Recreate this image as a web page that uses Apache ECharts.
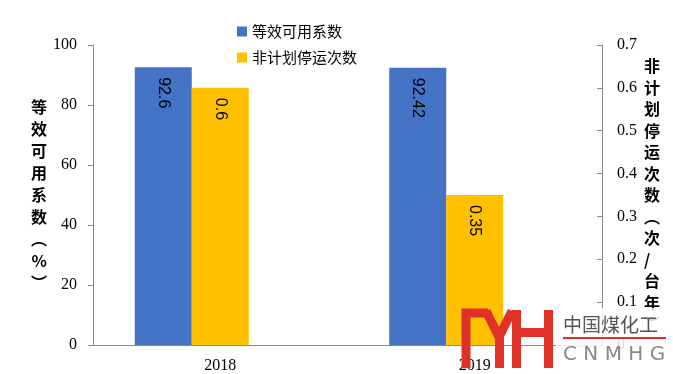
<!DOCTYPE html>
<html><head><meta charset="utf-8">
<script src="https://cdn.jsdelivr.net/npm/echarts@6/dist/echarts.min.js"></script>
<style>html,body{margin:0;padding:0;background:#fff;}#c{width:673px;height:374px;}</style>
</head><body><div id="c"></div>
<script>
const categories = ['2018', '2019'];
const availability = [92.6, 92.42];
const outages = [0.6, 0.35];
const spacer = [null, null];
const seriesNames = ['等效可用系数', '非计划停运次数'];
const leftName = ['等','效','可','用','系','数','︵','%','︶'];
const rightName = ['非','计','划','停','运','次','数','︵','次','/','台','年','︶'];

const chart = echarts.init(document.getElementById('c'));
const serif = 'Liberation Serif, Times New Roman, serif';
const sans = 'Liberation Sans, Arial, sans-serif';
const cjk = 'Noto Sans CJK SC';
const labelCfg = {
  show: true, position: 'insideTop', distance: 10, rotate: -90,
  align: 'left', verticalAlign: 'middle',
  fontFamily: sans, fontSize: 16, color: '#000'
};
chart.setOption({
  animation: false,
  grid: { left: 93, right: 71, top: 45, bottom: 29 },
  legend: {
    orient: 'vertical', left: 232, top: 19, itemGap: 11,
    itemWidth: 10, itemHeight: 10, icon: 'rect',
    textStyle: { fontFamily: cjk, fontSize: 15, color: '#000' },
    data: seriesNames
  },
  xAxis: {
    type: 'category', data: categories,
    axisLine: { lineStyle: { color: '#898989' } },
    axisTick: { show: false },
    axisLabel: { fontFamily: serif, fontSize: 16, color: '#000', margin: 13 }
  },
  yAxis: [{
    type: 'value', min: 0, max: 100, interval: 20,
    splitLine: { show: false },
    axisLine: { show: true, lineStyle: { color: '#898989' } },
    axisTick: { show: true, length: 5, lineStyle: { color: '#898989' } },
    axisLabel: { fontFamily: serif, fontSize: 16, color: '#000', margin: 16 },
    name: leftName.join('\n'), nameLocation: 'middle', nameGap: 46, nameRotate: 0,
    nameTextStyle: { fontFamily: cjk, fontSize: 16, fontWeight: 'bold', color: '#000', lineHeight: 22 }
  }, {
    type: 'value', min: 0, max: 0.7, interval: 0.1, position: 'right',
    splitLine: { show: false },
    axisLine: { show: true, lineStyle: { color: '#898989' } },
    axisTick: { show: true, inside: true, length: 5, lineStyle: { color: '#898989' } },
    axisLabel: { fontFamily: serif, fontSize: 16, color: '#000', margin: 15,
      formatter: v => (Math.round(v * 10) / 10).toString() },
    name: rightName.join('\n'), nameLocation: 'middle', nameGap: 42, nameRotate: 0,
    nameTextStyle: { fontFamily: cjk, fontSize: 16, fontWeight: 'bold', color: '#000', lineHeight: 21.5 }
  }],
  series: [{
    name: seriesNames[0], type: 'bar', yAxisIndex: 0, data: availability,
    barWidth: 57, barGap: '0%', itemStyle: { color: '#4472C4' }, label: labelCfg
  }, {
    name: seriesNames[1], type: 'bar', yAxisIndex: 1, data: outages,
    barWidth: 57, barGap: '0%', itemStyle: { color: '#FFC000' }, label: labelCfg
  }, {
    name: 'spacer', type: 'bar', yAxisIndex: 0, data: spacer,
    barWidth: 57, barGap: '0%', itemStyle: { color: 'transparent' }, label: { show: false }, silent: true
  }],
  graphic: [
    { type: 'rect', z: 100, shape: { x: 556, y: 308, width: 117, height: 66 }, style: { fill: 'rgba(255,255,255,0.85)' } },
    { type: 'polyline', z: 101, shape: { points: [[466, 368], [466, 313], [488, 313]] }, style: { stroke: '#E03128', lineWidth: 9, fill: null } },
    { type: 'polyline', z: 101, shape: { points: [[486, 311], [499, 337], [512, 311]] }, style: { stroke: '#E03128', lineWidth: 9, fill: null, lineJoin: 'miter' } },
    { type: 'rect', z: 101, shape: { x: 495, y: 334, width: 9, height: 34 }, style: { fill: '#E03128' } },
    { type: 'rect', z: 101, shape: { x: 512, y: 310, width: 9, height: 58 }, style: { fill: '#E03128' } },
    { type: 'rect', z: 101, shape: { x: 544, y: 310, width: 9, height: 58 }, style: { fill: '#E03128' } },
    { type: 'rect', z: 101, shape: { x: 520, y: 328, width: 24, height: 9 }, style: { fill: '#E03128' } },
    { type: 'text', z: 102, x: 563, y: 315, style: { text: '中国煤化工', font: '19px "Noto Sans CJK SC"', fill: '#555' } },
    { type: 'rect', z: 102, shape: { x: 563, y: 337, width: 103, height: 2 }, style: { fill: '#E03128' } },
    { type: 'text', z: 102, x: 563, y: 345, style: { text: 'C N M H G', font: '20px "DejaVu Sans"', fill: '#888' } }
  ]
});
</script></body></html>
